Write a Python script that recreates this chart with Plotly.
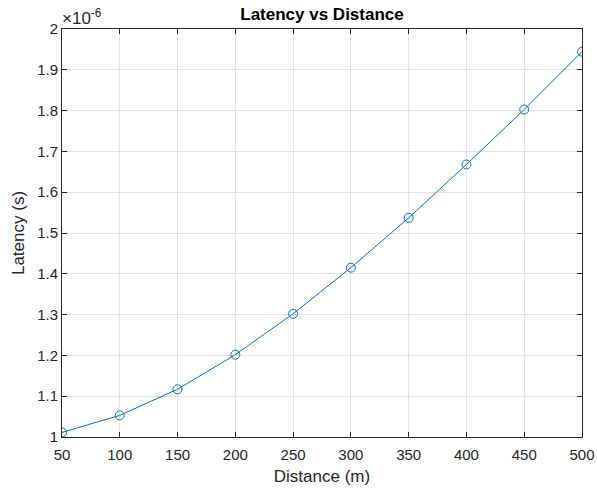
import plotly.graph_objects as go

distance_m = [50, 100, 150, 200, 250, 300, 350, 400, 450, 500]
latency_s = [1.0113e-6, 1.053e-6, 1.117e-6, 1.2017e-6, 1.302e-6,
             1.415e-6, 1.537e-6, 1.668e-6, 1.8027e-6, 1.9444e-6]
x_ticks = [50, 100, 150, 200, 250, 300, 350, 400, 450, 500]
y_ticks = [1, 1.1, 1.2, 1.3, 1.4, 1.5, 1.6, 1.7, 1.8, 1.9, 2]
y_tick_text = ["1", "1.1", "1.2", "1.3", "1.4", "1.5", "1.6", "1.7", "1.8", "1.9", "2"]
scale = 1e-6

FONT = "Liberation Sans, Arial"
TXT = "#262626"

fig = go.Figure()
fig.add_trace(go.Scatter(
    x=distance_m,
    y=[v / scale for v in latency_s],
    mode="lines+markers",
    line=dict(color="#0072BD", width=1),
    marker=dict(symbol="circle-open", size=9, color="#0072BD", line=dict(width=1)),
    showlegend=False,
))

axis_common = dict(
    showline=True, linecolor=TXT, linewidth=1, mirror="allticks",
    ticks="inside", ticklen=5, tickcolor=TXT,
    showgrid=True, gridcolor="#e3e3e3", gridwidth=1, zeroline=False,
    automargin=False,
    tickfont=dict(family=FONT, size=15, color=TXT),
)

fig.update_xaxes(range=[50, 500], tickvals=x_ticks, ticklabelstandoff=4,
                 title=dict(text="Distance (m)", standoff=8,
                            font=dict(family=FONT, size=17, color=TXT)),
                 **axis_common)
fig.update_yaxes(range=[1, 2], tickvals=y_ticks, ticktext=y_tick_text,
                 title=dict(text="Latency (s)", standoff=8,
                            font=dict(family=FONT, size=17, color=TXT)),
                 **axis_common)

fig.add_annotation(
    xref="paper", yref="paper", x=0, y=1, xanchor="left", yanchor="bottom",
    text="×10<sup>-6</sup>", showarrow=False, xshift=-2, yshift=-1,
    font=dict(family=FONT, size=17, color=TXT),
)

fig.update_layout(
    width=597, height=491,
    margin=dict(l=62, r=15, t=29, b=54),
    paper_bgcolor="white", plot_bgcolor="white",
    title=dict(text="<b>Latency vs Distance</b>", x=0.5, xref="paper",
               y=1 - 14 / 491, yref="container", yanchor="middle",
               font=dict(family=FONT, size=17, color="black")),
)

fig.write_html("out.html", config={"displayModeBar": False},
               post_script="document.body.style.margin='0';document.body.style.overflow='hidden';")
